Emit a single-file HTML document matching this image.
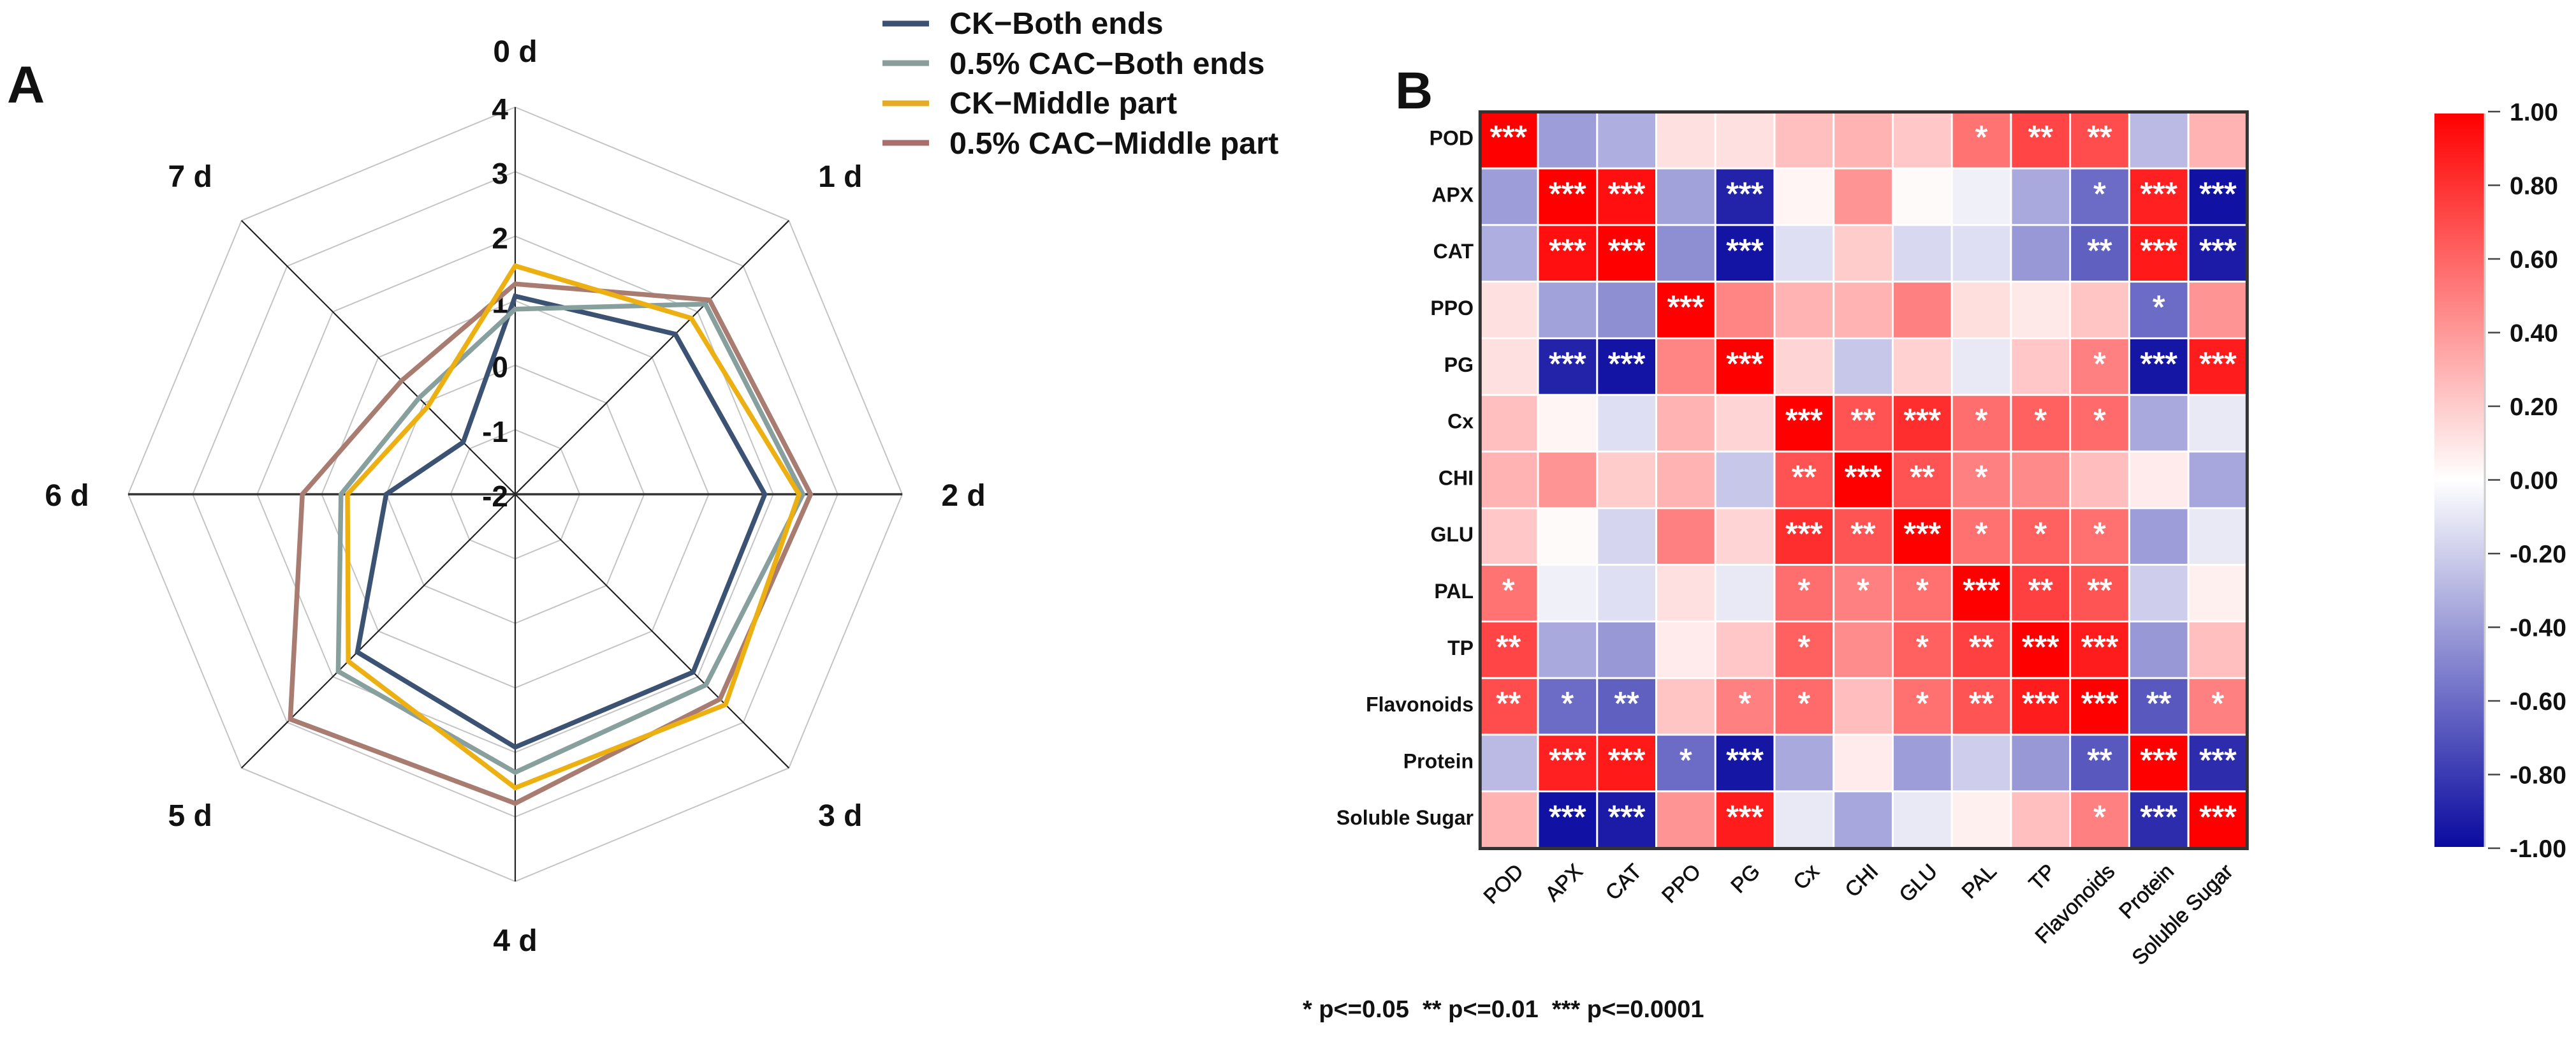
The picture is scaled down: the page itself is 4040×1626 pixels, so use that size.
<!DOCTYPE html>
<html lang="en">
<head>
<meta charset="utf-8">
<title>Radar chart and correlation heatmap</title>
<style>
html,body{margin:0;padding:0;background:#fff;}
svg{display:block;}
text{font-family:"Liberation Sans",Arial,sans-serif;fill:#111;}
</style>
</head>
<body>
<svg id="figure" xmlns="http://www.w3.org/2000/svg" width="4040" height="1626" viewBox="0 0 4040 1626">
  <rect x="0" y="0" width="4040" height="1626" fill="#ffffff"/>
  <text x="11" y="161" font-size="82" font-weight="700" fill="#000">A</text>
  <text x="2188" y="170" font-size="82" font-weight="700" fill="#000">B</text>

  <g id="radar-grid"></g>
  <g id="radar-spokes"></g>
  <g id="radar-ticks"></g>
  <g id="radar-categories"></g>
  <g id="radar-series"></g>

  <g>
    <g>
      <line x1="1384" x2="1457" y1="37" y2="37" stroke="#3c5272" stroke-width="9"/>
      <text x="1489" y="53" font-size="48.5" font-weight="700">CK−Both ends</text>
    </g>
    <g>
      <line x1="1384" x2="1457" y1="99" y2="99" stroke="#8a9d9a" stroke-width="9"/>
      <text x="1489" y="116" font-size="48.5" font-weight="700">0.5% CAC−Both ends</text>
    </g>
    <g>
      <line x1="1384" x2="1457" y1="162" y2="162" stroke="#e4ab25" stroke-width="9"/>
      <text x="1489" y="178" font-size="48.5" font-weight="700">CK−Middle part</text>
    </g>
    <g>
      <line x1="1384" x2="1457" y1="224" y2="224" stroke="#a96f6c" stroke-width="9"/>
      <text x="1489" y="241" font-size="48.5" font-weight="700">0.5% CAC−Middle part</text>
    </g>
  </g>

  <g id="heat-cells"></g>
  <g id="heat-stars"></g>
  <rect x="2321.3" y="175.5" width="1203" height="1155" fill="none" stroke="#333333" stroke-width="5"/>
  <g id="heat-row-labels"></g>
  <g id="heat-col-labels"></g>

  <defs>
    <linearGradient id="cbar-gradient" x1="0" y1="0" x2="0" y2="1"></linearGradient>
  </defs>
  <rect x="3818" y="178" width="78" height="1150" fill="url(#cbar-gradient)"/>
  <line x1="3897" x2="3897" y1="178" y2="1328" stroke="#cccccc" stroke-width="3"/>
  <g id="cbar-ticks"></g>

  <text x="2043" y="1595" font-size="38" font-weight="700" style="white-space:pre" xml:space="preserve">* p&lt;=0.05  ** p&lt;=0.01  *** p&lt;=0.0001</text>
</svg>

<script>
// ---------- Radar data ----------
const radarCategories = ['0 d', '1 d', '2 d', '3 d', '4 d', '5 d', '6 d', '7 d'];
const radarTicks = [-2, -1, 0, 1, 2, 3, 4];
const seriesCkBothEnds = [1.07, 1.51, 1.87, 1.90, 1.92, 1.46, 0.00, -0.86];
const seriesCacBothEnds = [0.87, 2.17, 2.46, 2.18, 2.31, 1.88, 0.70, 0.11];
const seriesCacMiddlePart = [1.26, 2.26, 2.58, 2.49, 2.79, 2.93, 1.30, 0.49];
const seriesCkMiddlePart = [1.54, 1.86, 2.40, 2.61, 2.55, 1.66, 0.60, -0.08];

// ---------- Heatmap data ----------
const heatLabels = ['POD', 'APX', 'CAT', 'PPO', 'PG', 'Cx', 'CHI', 'GLU', 'PAL', 'TP', 'Flavonoids', 'Protein', 'Soluble Sugar'];
const rowPOD = [1, -0.40, -0.33, 0.12, 0.12, 0.25, 0.30, 0.22, 0.55, 0.73, 0.70, -0.28, 0.30];
const rowAPX = [-0.40, 1, 0.94, -0.38, -0.90, 0.04, 0.42, 0.02, -0.06, -0.35, -0.60, 0.87, -0.97];
const rowCAT = [-0.33, 0.94, 1, -0.46, -0.96, -0.13, 0.20, -0.16, -0.13, -0.42, -0.65, 0.90, -0.93];
const rowPPO = [0.12, -0.38, -0.46, 1, 0.48, 0.30, 0.30, 0.50, 0.13, 0.09, 0.23, -0.60, 0.42];
const rowPG = [0.12, -0.90, -0.96, 0.48, 1, 0.17, -0.23, 0.18, -0.09, 0.22, 0.50, -0.95, 0.89];
const rowCx = [0.25, 0.04, -0.13, 0.30, 0.17, 1, 0.68, 0.82, 0.57, 0.62, 0.58, -0.35, -0.09];
const rowCHI = [0.30, 0.42, 0.20, 0.30, -0.23, 0.68, 1, 0.68, 0.50, 0.46, 0.26, 0.08, -0.36];
const rowGLU = [0.22, 0.02, -0.17, 0.50, 0.17, 0.82, 0.67, 1, 0.56, 0.62, 0.56, -0.40, -0.09];
const rowPAL = [0.55, -0.06, -0.13, 0.12, -0.09, 0.57, 0.50, 0.56, 1, 0.75, 0.67, -0.20, 0.06];
const rowTP = [0.73, -0.35, -0.42, 0.08, 0.22, 0.62, 0.45, 0.62, 0.75, 1, 0.89, -0.42, 0.25];
const rowFlavonoids = [0.70, -0.60, -0.65, 0.23, 0.50, 0.58, 0.26, 0.56, 0.67, 0.89, 1, -0.68, 0.50];
const rowProtein = [-0.28, 0.87, 0.90, -0.60, -0.95, -0.35, 0.08, -0.40, -0.20, -0.42, -0.68, 1, -0.86];
const rowSolubleSugar = [0.30, -0.97, -0.93, 0.42, 0.89, -0.09, -0.36, -0.09, 0.06, 0.25, 0.50, -0.86, 1];
const heatValues = [rowPOD, rowAPX, rowCAT, rowPPO, rowPG, rowCx, rowCHI, rowGLU, rowPAL, rowTP, rowFlavonoids, rowProtein, rowSolubleSugar];

const starsPOD = [3, 0, 0, 0, 0, 0, 0, 0, 1, 2, 2, 0, 0];
const starsAPX = [0, 3, 3, 0, 3, 0, 0, 0, 0, 0, 1, 3, 3];
const starsCAT = [0, 3, 3, 0, 3, 0, 0, 0, 0, 0, 2, 3, 3];
const starsPPO = [0, 0, 0, 3, 0, 0, 0, 0, 0, 0, 0, 1, 0];
const starsPG = [0, 3, 3, 0, 3, 0, 0, 0, 0, 0, 1, 3, 3];
const starsCx = [0, 0, 0, 0, 0, 3, 2, 3, 1, 1, 1, 0, 0];
const starsCHI = [0, 0, 0, 0, 0, 2, 3, 2, 1, 0, 0, 0, 0];
const starsGLU = [0, 0, 0, 0, 0, 3, 2, 3, 1, 1, 1, 0, 0];
const starsPAL = [1, 0, 0, 0, 0, 1, 1, 1, 3, 2, 2, 0, 0];
const starsTP = [2, 0, 0, 0, 0, 1, 0, 1, 2, 3, 3, 0, 0];
const starsFlavonoids = [2, 1, 2, 0, 1, 1, 0, 1, 2, 3, 3, 2, 1];
const starsProtein = [0, 3, 3, 1, 3, 0, 0, 0, 0, 0, 2, 3, 3];
const starsSolubleSugar = [0, 3, 3, 0, 3, 0, 0, 0, 0, 0, 1, 3, 3];
const heatStars = [starsPOD, starsAPX, starsCAT, starsPPO, starsPG, starsCx, starsCHI, starsGLU, starsPAL, starsTP, starsFlavonoids, starsProtein, starsSolubleSugar];

const colorbarTicks = [1.00, 0.80, 0.60, 0.40, 0.20, 0.00, -0.20, -0.40, -0.60, -0.80, -1.00];

// ---------- Helpers ----------
const SVG_NS = 'http://www.w3.org/2000/svg';
function make(tag, parent) {
  const el = document.createElementNS(SVG_NS, tag);
  parent.appendChild(el);
  return el;
}
function slug(s) {
  return String(s).toLowerCase().replace(/[^a-z0-9]+/g, '-');
}

// ---------- Radar scales ----------
const cx = 808, cy = 775, radius = 607, vMin = -2, vMax = 4;
function rScale(v) { return (v - vMin) / (vMax - vMin) * radius; }
function angleAt(i) { return i / radarCategories.length * 2 * Math.PI; }
function polarX(i, v) { return cx + rScale(v) * Math.sin(angleAt(i)); }
function polarY(i, v) { return cy - rScale(v) * Math.cos(angleAt(i)); }
function polygonPoints(values) {
  return values.map((v, i) => polarX(i, v).toFixed(1) + ',' + polarY(i, v).toFixed(1)).join(' ');
}

// Grid rings
const gridG = document.getElementById('radar-grid');
radarTicks.forEach(t => {
  if (t === vMin) return;
  const ring = make('polygon', gridG);
  
  
  ring.setAttribute('points', polygonPoints(radarCategories.map(() => t)));
  ring.setAttribute('fill', 'none');
  ring.setAttribute('stroke', '#c4c4c4');
  ring.setAttribute('stroke-width', '2');
});

// Spokes
const spokeG = document.getElementById('radar-spokes');
radarCategories.forEach((c, i) => {
  const sp = make('line', spokeG);
  
  
  sp.setAttribute('x1', cx);
  sp.setAttribute('y1', cy);
  sp.setAttribute('x2', polarX(i, vMax));
  sp.setAttribute('y2', polarY(i, vMax));
  sp.setAttribute('stroke', i % 4 === 2 ? '#333333' : '#222222');
  sp.setAttribute('stroke-width', i % 4 === 2 ? '3.5' : '2.2');
});

// Radial tick labels
const tickG = document.getElementById('radar-ticks');
radarTicks.forEach(t => {
  const tx = make('text', tickG);
  
  
  tx.setAttribute('x', 797);
  tx.setAttribute('y', cy - rScale(t) + 19);
  tx.setAttribute('text-anchor', 'end');
  tx.setAttribute('font-size', '46');
  tx.setAttribute('font-weight', '700');
  tx.textContent = String(t);
});

// Category labels, placed radially around the plot
const catG = document.getElementById('radar-categories');
radarCategories.forEach((c, i) => {
  const a = angleAt(i);
  const tx = make('text', catG);
  
  
  const vert = Math.abs(Math.cos(a));
  const horizOffset = vert < 0.01 ? 703 : 721;
  const lx = cx + Math.sin(a) * horizOffset;
  const ly = i === 0 ? 97 : i === 4 ? 1491 : (vert < 0.01 ? 793 : (Math.cos(a) > 0 ? 293 : 1295));
  tx.setAttribute('x', lx.toFixed(1));
  tx.setAttribute('y', ly);
  tx.setAttribute('text-anchor', 'middle');
  tx.setAttribute('font-size', '48');
  tx.setAttribute('font-weight', '700');
  tx.textContent = c;
});

// Series
const seriesG = document.getElementById('radar-series');
const seriesList = [
  ['ck-both-ends', seriesCkBothEnds, '#3c5272'],
  ['cac-both-ends', seriesCacBothEnds, '#87a09e'],
  ['cac-middle-part', seriesCacMiddlePart, '#a87c70'],
  ['ck-middle-part', seriesCkMiddlePart, '#edb012']
];
seriesList.forEach(s => {
  const poly = make('polygon', seriesG);
  
  
  poly.setAttribute('points', polygonPoints(s[1]));
  poly.setAttribute('fill', 'none');
  poly.setAttribute('stroke', s[2]);
  poly.setAttribute('stroke-width', '7.5');
  poly.setAttribute('stroke-linejoin', 'miter');
});

// ---------- Heatmap ----------
const hx0 = 2319.3, hStepX = 92.73, hy0 = 175.2, hStepY = 88.8;
function xScale(i) { return hx0 + i * hStepX; }
function yScale(j) { return hy0 + j * hStepY; }
function colorFor(v) {
  const c = Math.max(-1, Math.min(1, v));
  if (c >= 0) {
    const g = Math.round(255 * (1 - c));
    return 'rgb(255,' + g + ',' + g + ')';
  }
  const a = -c;
  const rg = Math.round(255 - a * 245);
  const b = Math.round(255 - a * 95);
  return 'rgb(' + rg + ',' + rg + ',' + b + ')';
}

const cellG = document.getElementById('heat-cells');
const starG = document.getElementById('heat-stars');
heatValues.forEach((row, j) => {
  row.forEach((v, i) => {
    const cell = make('rect', cellG);
    
    
    cell.setAttribute('x', (xScale(i) + 1.5).toFixed(1));
    cell.setAttribute('y', (yScale(j) + 1.5).toFixed(1));
    cell.setAttribute('width', (hStepX - 3).toFixed(1));
    cell.setAttribute('height', (hStepY - 3).toFixed(1));
    cell.setAttribute('fill', colorFor(v));
    const n = heatStars[j][i];
    if (n > 0) {
      const st = make('text', starG);
      
      
      st.setAttribute('x', (xScale(i) + hStepX / 2).toFixed(1));
      st.setAttribute('y', (yScale(j) + 57).toFixed(1));
      st.setAttribute('text-anchor', 'middle');
      st.setAttribute('font-size', '50');
      st.setAttribute('font-weight', '400');
      st.setAttribute('stroke', '#ffffff');
      st.setAttribute('stroke-width', '1.2');
      st.setAttribute('style', 'fill:#ffffff');
      st.textContent = '*'.repeat(n);
    }
  });
});

const rowLabelG = document.getElementById('heat-row-labels');
const colLabelG = document.getElementById('heat-col-labels');
heatLabels.forEach((lab, k) => {
  const r = make('text', rowLabelG);
  
  
  r.setAttribute('x', 2311);
  r.setAttribute('y', (yScale(k) + hStepY / 2 + 8).toFixed(1));
  r.setAttribute('text-anchor', 'end');
  r.setAttribute('font-size', '32');
  r.setAttribute('font-weight', '700');
  r.textContent = lab;

  const c = make('text', colLabelG);
  const ax = xScale(k) + hStepX / 2 + 17;
  const ay = 1360;
  
  
  c.setAttribute('x', 0);
  c.setAttribute('y', 0);
  c.setAttribute('dy', '0.36em');
  c.setAttribute('transform', 'translate(' + ax.toFixed(1) + ',' + ay + ') rotate(-45)');
  c.setAttribute('text-anchor', 'end');
  c.setAttribute('font-size', '33');
  c.setAttribute('stroke', '#111111');
  c.setAttribute('stroke-width', '0.7');
  c.textContent = lab;
});

// ---------- Colorbar ----------
const grad = document.getElementById('cbar-gradient');
colorbarTicks.forEach((t, k) => {
  const stop = make('stop', grad);
  stop.setAttribute('offset', (k / (colorbarTicks.length - 1) * 100) + '%');
  stop.setAttribute('stop-color', colorFor(t));
});

const cbTop = 175, cbBottom = 1330;
function cbScale(v) { return cbTop + (1 - v) / 2 * (cbBottom - cbTop); }
const cbG = document.getElementById('cbar-ticks');
colorbarTicks.forEach(t => {
  const y = cbScale(t);
  const tl = make('line', cbG);
  
  
  tl.setAttribute('x1', 3902);
  tl.setAttribute('x2', 3921);
  tl.setAttribute('y1', y);
  tl.setAttribute('y2', y);
  tl.setAttribute('stroke', '#444444');
  tl.setAttribute('stroke-width', '2.5');
  const lb = make('text', cbG);
  
  
  lb.setAttribute('x', 3936);
  lb.setAttribute('y', y + 14);
  lb.setAttribute('font-size', '39');
  lb.setAttribute('font-weight', '700');
  lb.textContent = t.toFixed(2);
});
</script>
</body>
</html>
